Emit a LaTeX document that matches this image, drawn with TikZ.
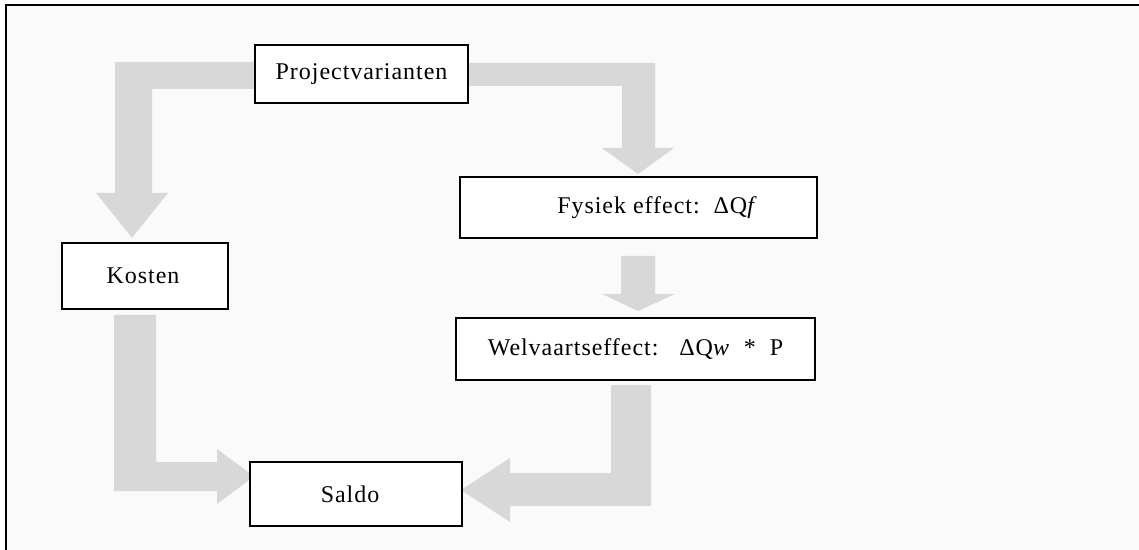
\documentclass[tikz,border=0pt]{standalone}
\usepackage{fontspec}
\setmainfont{Liberation Serif}[LetterSpace=4]
\definecolor{flowgray}{RGB}{216,216,216}
\definecolor{bgpale}{RGB}{250,250,250}
\begin{document}
\begin{tikzpicture}[x=0.5pt,y=-0.5pt,
  flow/.style={fill=flowgray, draw=none},
  box/.style={draw=black, line width=1.4pt, fill=white, inner sep=0pt,
    font=\fontsize{12}{14}\selectfont}]
\useasboundingbox (0,0) rectangle (1139,550);
\fill[white] (0,0) rectangle (1139,550);
\fill[bgpale] (6,5) rectangle (1139,550);
\draw[line width=1.1pt] (6,550) -- (6,5) -- (1139,5);

% gray block arrows
\fill[flow] (262,62) -- (115,62) -- (115,193) -- (96,193) -- (132,238) -- (168,193) -- (152,193) -- (152,89) -- (262,89) -- cycle;
\fill[flow] (462,63) -- (655,63) -- (655,148) -- (674,148) -- (638,174) -- (602,148) -- (622,148) -- (622,86) -- (462,86) -- cycle;
\fill[flow] (621,256) -- (655,256) -- (655,294) -- (675,294) -- (638,311) -- (602,294) -- (621,294) -- cycle;
\fill[flow] (114,315) -- (156,315) -- (156,462) -- (217,462) -- (217,449) -- (254,476.5) -- (217,504) -- (217,491) -- (114,491) -- cycle;
\fill[flow] (651,385) -- (651,506) -- (510,506) -- (510,522) -- (461,490) -- (510,458) -- (510,473) -- (611,473) -- (611,385) -- cycle;

% boxes
\node[box, minimum width=106.5pt, minimum height=29pt] (pv) at (361.5,74) {Projectvarianten};
\node[box, minimum width=83pt, minimum height=33pt] (kost) at (145,276) {\hspace*{-2pt}Kosten};
\node[box, minimum width=178.5pt, minimum height=30.5pt] (fys) at (638.5,207.5) {\hspace*{19pt}Fysiek effect:\ \ ΔQ\textit{f}};
\node[box, minimum width=179.5pt, minimum height=31pt] (welv) at (635.5,349) {Welvaartseffect:\ \ \ ΔQ\textit{w}\ \ *\ \ P};
\node[box, minimum width=106pt, minimum height=32pt] (saldo) at (356,494) {\hspace*{-6pt}Saldo};
\end{tikzpicture}
\end{document}
